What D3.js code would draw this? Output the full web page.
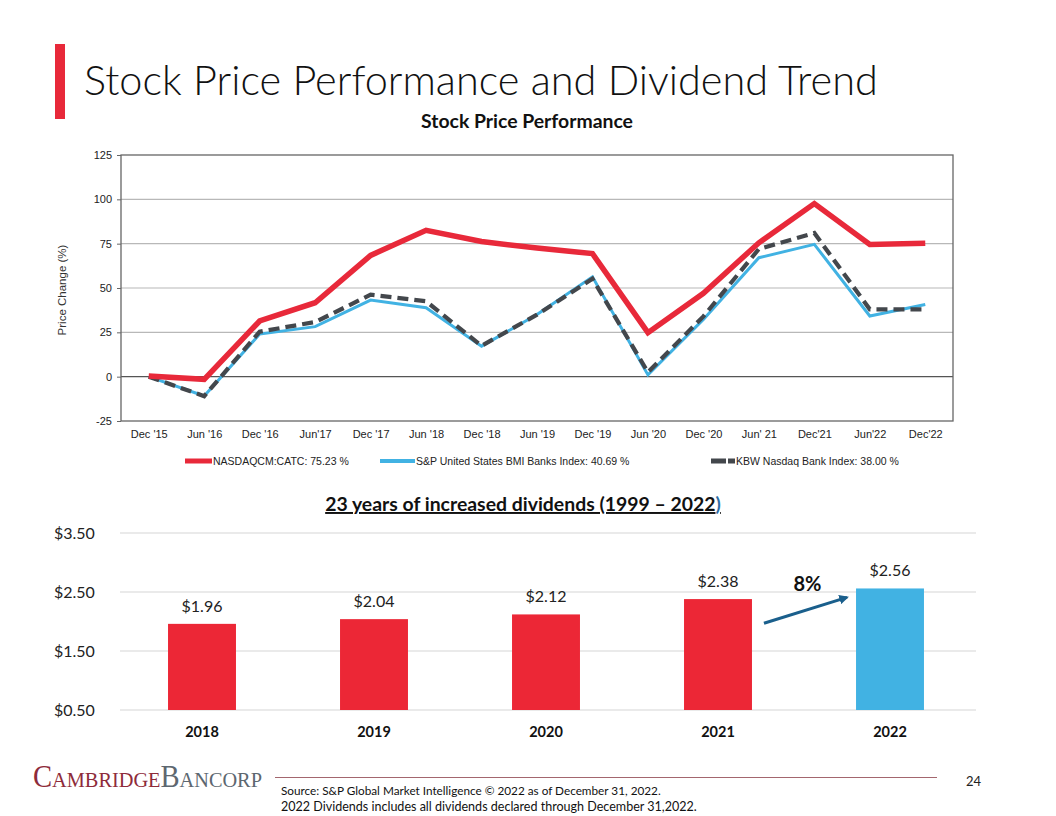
<!DOCTYPE html>
<html>
<head>
<meta charset="utf-8">
<script src="https://cdn.jsdelivr.net/npm/d3@7"></script>
<style>
  html, body { margin: 0; padding: 0; background: #fff; }
  svg { display: block; }
</style>
</head>
<body>
<svg id="chart" width="1056" height="816"></svg>
<script>
// ---------- DATA ----------
const periods = ["Dec '15","Jun '16","Dec '16","Jun'17","Dec '17","Jun '18","Dec '18","Jun '19","Dec '19","Jun '20","Dec '20","Jun' 21","Dec'21","Jun'22","Dec'22"];
const nasdaqCATC = [0.4, -1.5, 31.4, 41.7, 68.4, 82.5, 76.2, 72.5, 69.4, 24.8, 47.0, 75.5, 97.6, 74.6, 75.23];
const spBMIBanks = [0, -10.9, 24.0, 28.2, 43.2, 38.9, 17.2, 35.0, 56.3, 1.0, 32.3, 67.1, 74.6, 34.2, 40.69];
const kbwBank    = [0, -11.0, 25.4, 30.8, 46.2, 42.5, 17.4, 35.0, 55.2, 2.5, 34.0, 72.0, 81.0, 38.0, 38.00];
const lineYTicks = [-25, 0, 25, 50, 75, 100, 125];
const legendLabels = ["NASDAQCM:CATC: 75.23 %", "S&P United States BMI Banks Index:  40.69 %", "KBW Nasdaq Bank Index: 38.00 %"];

const divYears = ["2018","2019","2020","2021","2022"];
const divValues = [1.96, 2.04, 2.12, 2.38, 2.56];
const divLabels = ["$1.96","$2.04","$2.12","$2.38","$2.56"];
const divTicks = [0.5, 1.5, 2.5, 3.5];
const divTickLabels = ["$0.50","$1.50","$2.50","$3.50"];
const growthLabel = "8%";

// ---------- SETUP ----------
const svg = d3.select("#chart");
const RED = "#e8293a", BLUE = "#41b2e3", DARK = "#43474c";
const ARIAL = "'Liberation Sans', Arial, sans-serif";
const SANS = "Lato, 'Open Sans', sans-serif";

function fitWidth(sel, w) {
  const node = sel.node();
  const fs = parseFloat(sel.attr("font-size"));
  const cur = node.getComputedTextLength();
  sel.attr("font-size", (fs * w / cur).toFixed(2));
}

// Title
svg.append("rect").attr("x", 55).attr("y", 44).attr("width", 10).attr("height", 75).attr("fill", RED);
const title = svg.append("text").attr("x", 84).attr("y", 95)
  .attr("font-family", SANS).attr("font-weight", 300).attr("font-size", 40).attr("fill", "#111")
  .text("Stock Price Performance and Dividend Trend");
fitWidth(title, 794);

const sub = svg.append("text").attr("x", 527).attr("y", 128).attr("text-anchor", "middle")
  .attr("font-family", SANS).attr("font-weight", 700).attr("font-size", 16.5).attr("fill", "#111")
  .text("Stock Price Performance");
fitWidth(sub, 212);

// ---------- LINE CHART ----------
const L = {left: 121, right: 953, top: 155, bottom: 421};
const x = d3.scalePoint().domain(periods).range([L.left, L.right]).padding(0.5);
const y = d3.scaleLinear().domain([-25, 125]).range([L.bottom, L.top]);

const lg = svg.append("g");
// gridlines
lg.append("g").selectAll("line").data(lineYTicks.filter(t => t !== -25 && t !== 125)).join("line")
  .attr("x1", L.left).attr("x2", L.right)
  .attr("y1", d => y(d)).attr("y2", d => y(d))
  .attr("stroke", d => d === 0 ? "#555" : "#b8b8b8").attr("stroke-width", d => d === 0 ? 1.3 : 1.2);
// frame
lg.append("rect").attr("x", L.left).attr("y", L.top).attr("width", L.right - L.left).attr("height", L.bottom - L.top)
  .attr("fill", "none").attr("stroke", "#666").attr("stroke-width", 1.3);

// y axis
const yAxis = lg.append("g").attr("transform", `translate(${L.left},0)`)
  .call(d3.axisLeft(y).tickValues(lineYTicks).tickFormat(d => String(d)).tickSize(4).tickPadding(5));
yAxis.select(".domain").remove();
yAxis.selectAll("line").attr("stroke", "#666");
yAxis.selectAll("text").attr("font-family", ARIAL).attr("font-size", 11).attr("fill", "#222");

// x axis labels
const xAxis = lg.append("g").attr("transform", `translate(0,${L.bottom})`)
  .call(d3.axisBottom(x).tickSize(0).tickPadding(9));
xAxis.select(".domain").remove();
xAxis.selectAll("text").attr("font-family", ARIAL).attr("font-size", 11).attr("fill", "#222");

lg.append("text").attr("transform", `translate(66,${(L.top + L.bottom) / 2 + 2}) rotate(-90)`)
  .attr("text-anchor", "middle").attr("font-family", ARIAL).attr("font-size", 11.5).attr("fill", "#333")
  .text("Price Change (%)");

const line = d3.line().x((d, i) => x(periods[i])).y(d => y(d));
lg.append("path").datum(spBMIBanks).attr("d", line).attr("fill", "none")
  .attr("stroke", BLUE).attr("stroke-width", 3).attr("stroke-linejoin", "miter");
lg.append("path").datum(kbwBank).attr("d", line).attr("fill", "none")
  .attr("stroke", DARK).attr("stroke-width", 4.2).attr("stroke-dasharray", "11,6");
lg.append("path").datum(nasdaqCATC).attr("d", line).attr("fill", "none")
  .attr("stroke", RED).attr("stroke-width", 5.5).attr("stroke-linejoin", "miter");

// legend
const legY = 461;
const legItems = [
  {x0: 185, x1: 212, color: RED, w: 5, dash: null},
  {x0: 380, x1: 415, color: BLUE, w: 4, dash: null},
  {x0: 711, x1: 735, color: DARK, w: 5, dash: "15,2"}
];
legItems.forEach((it, i) => {
  lg.append("line").attr("x1", it.x0).attr("x2", it.x1).attr("y1", legY).attr("y2", legY)
    .attr("stroke", it.color).attr("stroke-width", it.w).attr("stroke-dasharray", it.dash);
  lg.append("text").attr("x", it.x1 + 1).attr("y", legY + 4)
    .attr("font-family", ARIAL).attr("font-size", 10.5).attr("fill", "#222").text(legendLabels[i]);
});

// ---------- BAR CHART ----------
const bt = svg.append("text").attr("x", 523).attr("y", 511).attr("text-anchor", "middle")
  .attr("font-family", SANS).attr("font-weight", 700).attr("font-size", 17).attr("fill", "#111")
  .attr("text-decoration", "underline");
bt.append("tspan").text("23 years of increased dividends (1999 – 2022");
bt.append("tspan").attr("fill", "#2e6da4").text(")");
fitWidth(bt, 396);

const B = {left: 116, right: 976, top: 533, bottom: 710};
const xb = d3.scaleBand().domain(divYears).range([B.left, B.right]).paddingInner(0.605).paddingOuter(0.3025);
const yb = d3.scaleLinear().domain([0.5, 3.5]).range([B.bottom, B.top]);

const bg = svg.append("g");
bg.append("g").selectAll("line").data(divTicks).join("line")
  .attr("x1", 120).attr("x2", B.right)
  .attr("y1", d => yb(d)).attr("y2", d => yb(d))
  .attr("stroke", "#e3e3e3").attr("stroke-width", 1.5);
bg.append("g").selectAll("text").data(divTicks).join("text")
  .attr("x", 54).attr("y", d => yb(d) + 6)
  .attr("font-family", SANS).attr("font-size", 16).attr("fill", "#222")
  .text((d, i) => divTickLabels[i]);

bg.append("g").selectAll("rect").data(divValues).join("rect")
  .attr("x", (d, i) => xb(divYears[i])).attr("width", xb.bandwidth())
  .attr("y", d => yb(d)).attr("height", d => yb(0.5) - yb(d))
  .attr("fill", (d, i) => i === divValues.length - 1 ? BLUE : "#ec2736");

bg.append("g").selectAll("text").data(divValues).join("text")
  .attr("x", (d, i) => xb(divYears[i]) + xb.bandwidth() / 2)
  .attr("y", d => yb(d) - 12)
  .attr("text-anchor", "middle").attr("font-family", SANS).attr("font-size", 16).attr("fill", "#222")
  .text((d, i) => divLabels[i]);

bg.append("g").selectAll("text").data(divYears).join("text")
  .attr("x", d => xb(d) + xb.bandwidth() / 2).attr("y", 737)
  .attr("text-anchor", "middle").attr("font-family", SANS).attr("font-weight", 700).attr("font-size", 14.5).attr("fill", "#111")
  .text(d => d);

// growth arrow
svg.append("defs").append("marker").attr("id", "ah").attr("viewBox", "0 0 10 10")
  .attr("refX", 8).attr("refY", 5).attr("markerWidth", 3.2).attr("markerHeight", 3.2).attr("orient", "auto")
  .append("path").attr("d", "M0,0 L10,5 L0,10 z").attr("fill", "#1a5f8c");
const ax0 = xb("2021") + xb.bandwidth() + 12, ax1 = xb("2022") - 9;
bg.append("line").attr("x1", ax0).attr("y1", yb(1.97)).attr("x2", ax1).attr("y2", yb(2.41))
  .attr("stroke", "#1a5f8c").attr("stroke-width", 3).attr("marker-end", "url(#ah)");
bg.append("text").attr("x", (ax0 + ax1) / 2 + 2).attr("y", 591).attr("text-anchor", "middle")
  .attr("font-family", SANS).attr("font-weight", 700).attr("font-size", 20).attr("fill", "#111")
  .text(growthLabel);

// ---------- FOOTER ----------
const logo = svg.append("text").attr("x", 33).attr("y", 787)
  .attr("font-family", "'Liberation Serif', 'DejaVu Serif', serif").attr("font-size", 31)
  .attr("textLength", 229).attr("lengthAdjust", "spacingAndGlyphs")
  .style("font-variant", "small-caps");
logo.append("tspan").attr("fill", "#8e2b3a").text("Cambridge");
logo.append("tspan").attr("fill", "#5d6770").text("Bancorp");

svg.append("line").attr("x1", 275).attr("x2", 937).attr("y1", 777.5).attr("y2", 777.5)
  .attr("stroke", "#a3666e").attr("stroke-width", 1.2);
svg.append("text").attr("x", 966).attr("y", 786).attr("font-family", SANS).attr("font-size", 13).attr("fill", "#222").text("24");
const s1 = svg.append("text").attr("x", 281).attr("y", 795).attr("font-family", SANS).attr("font-size", 12).attr("fill", "#111")
  .text("Source: S&P Global Market Intelligence © 2022 as of December 31, 2022.");
fitWidth(s1, 380);
const s2 = svg.append("text").attr("x", 281).attr("y", 811).attr("font-family", SANS).attr("font-size", 12).attr("fill", "#111")
  .text("2022 Dividends includes all dividends declared through December 31,2022.");
fitWidth(s2, 416);
</script>
</body>
</html>
